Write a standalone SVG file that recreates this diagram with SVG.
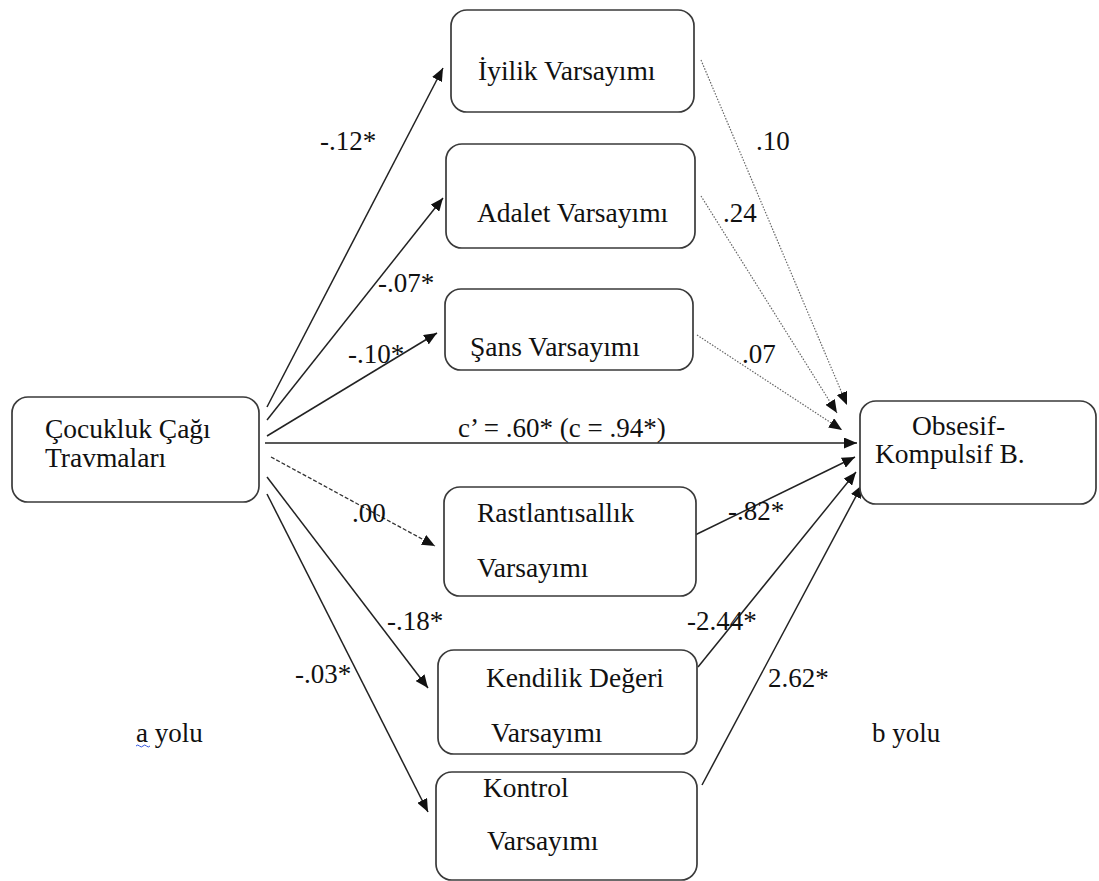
<svg xmlns="http://www.w3.org/2000/svg" width="1099" height="881" viewBox="0 0 1099 881">
<style>
.box{fill:#fff;stroke:#3a3a3a;stroke-width:1.7}
.t{font-family:'Liberation Serif','Tinos','Times New Roman','DejaVu Serif',serif;font-size:27.5px;fill:#111}
.l{font-family:'Liberation Serif','Tinos','Times New Roman','DejaVu Serif',serif;font-size:27px;fill:#111}
.solid{stroke:#222;stroke-width:1.5;fill:none}
.dot{stroke:#666;stroke-width:1.2;stroke-dasharray:1.5 1.5;fill:none}
.dash{stroke:#333;stroke-width:1.3;stroke-dasharray:4 2;fill:none}
</style>
<defs>
<marker id="arr" markerUnits="userSpaceOnUse" markerWidth="14" markerHeight="11" refX="13" refY="5.5" orient="auto">
<path d="M0,0 L13,5.5 L0,11 Z" fill="#111"/>
</marker>
</defs>
<rect width="1099" height="881" fill="#fff"/>
<g id="connectors">
<line class="solid" x1="267" y1="407" x2="443" y2="68" marker-end="url(#arr)"/>
<line class="solid" x1="267" y1="420" x2="443" y2="198" marker-end="url(#arr)"/>
<line class="solid" x1="267" y1="436" x2="437" y2="333" marker-end="url(#arr)"/>
<line class="solid" x1="265" y1="443" x2="857" y2="443" marker-end="url(#arr)"/>
<line class="dash" x1="271" y1="457" x2="435" y2="546" marker-end="url(#arr)"/>
<line class="solid" x1="267" y1="477" x2="428" y2="688" marker-end="url(#arr)"/>
<line class="solid" x1="267" y1="494" x2="428" y2="812" marker-end="url(#arr)"/>
<line class="dot" x1="701" y1="60" x2="847" y2="405" marker-end="url(#arr)"/>
<line class="dot" x1="701" y1="196" x2="837" y2="413" marker-end="url(#arr)"/>
<line class="dot" x1="697" y1="335" x2="842" y2="430" marker-end="url(#arr)"/>
<line class="solid" x1="693" y1="536" x2="855" y2="457" marker-end="url(#arr)"/>
<line class="solid" x1="698" y1="667" x2="856" y2="472" marker-end="url(#arr)"/>
<line class="solid" x1="702" y1="785" x2="862" y2="485" marker-end="url(#arr)"/>
</g>
<g id="labels">
<text class="l" x="320" y="150">-.12*</text>
<text class="l" x="378" y="292">-.07*</text>
<text class="l" x="348" y="363">-.10*</text>
<text class="l" x="352" y="522">.00</text>
<text class="l" x="387" y="630">-.18*</text>
<text class="l" x="295" y="683">-.03*</text>
<text class="l" x="756" y="150">.10</text>
<text class="l" x="723" y="222">.24</text>
<text class="l" x="742" y="363">.07</text>
<text class="l" x="458" y="437">c’ = .60* (c = .94*)</text>
<text class="l" x="728" y="520">-.82*</text>
<text class="l" x="687" y="630">-2.44*</text>
<text class="l" x="768" y="687">2.62*</text>
<text class="l" x="136" y="742">a yolu</text>
<path d="M136,746 q1.75,-2 3.5,0 t3.5,0 t3.5,0 t3.5,0" fill="none" stroke="#3355dd" stroke-width="1"/>
<text class="l" x="872" y="742">b yolu</text>
</g>
<g id="node-cocukluk">
<rect class="box" x="12" y="397" width="247" height="105" rx="16"/>
<text class="t" x="45" y="438">Çocukluk Çağı</text>
<text class="t" x="45" y="467">Travmaları</text>
</g>
<g id="node-iyilik">
<rect class="box" x="451" y="10" width="243" height="102" rx="16"/>
<text class="t" x="478" y="80">İyilik Varsayımı</text>
</g>
<g id="node-adalet">
<rect class="box" x="446" y="144" width="249" height="104" rx="16"/>
<text class="t" x="477" y="222">Adalet Varsayımı</text>
</g>
<g id="node-sans">
<rect class="box" x="445" y="289" width="248" height="81" rx="16"/>
<text class="t" x="470" y="356">Şans Varsayımı</text>
</g>
<g id="node-rastlanti">
<rect class="box" x="444" y="487" width="252" height="109" rx="16"/>
<text class="t" x="477" y="522">Rastlantısallık</text>
<text class="t" x="477" y="577">Varsayımı</text>
</g>
<g id="node-kendilik">
<rect class="box" x="438" y="650" width="259" height="104" rx="16"/>
<text class="t" x="486" y="687">Kendilik Değeri</text>
<text class="t" x="491" y="742">Varsayımı</text>
</g>
<g id="node-kontrol">
<rect class="box" x="436" y="772" width="261" height="108" rx="16"/>
<text class="t" x="483" y="797">Kontrol</text>
<text class="t" x="487" y="850">Varsayımı</text>
</g>
<g id="node-obsesif">
<rect class="box" x="860" y="401" width="236" height="103" rx="16"/>
<text class="t" x="912" y="435">Obsesif-</text>
<text class="t" x="875" y="463">Kompulsif B.</text>
</g>
</svg>
